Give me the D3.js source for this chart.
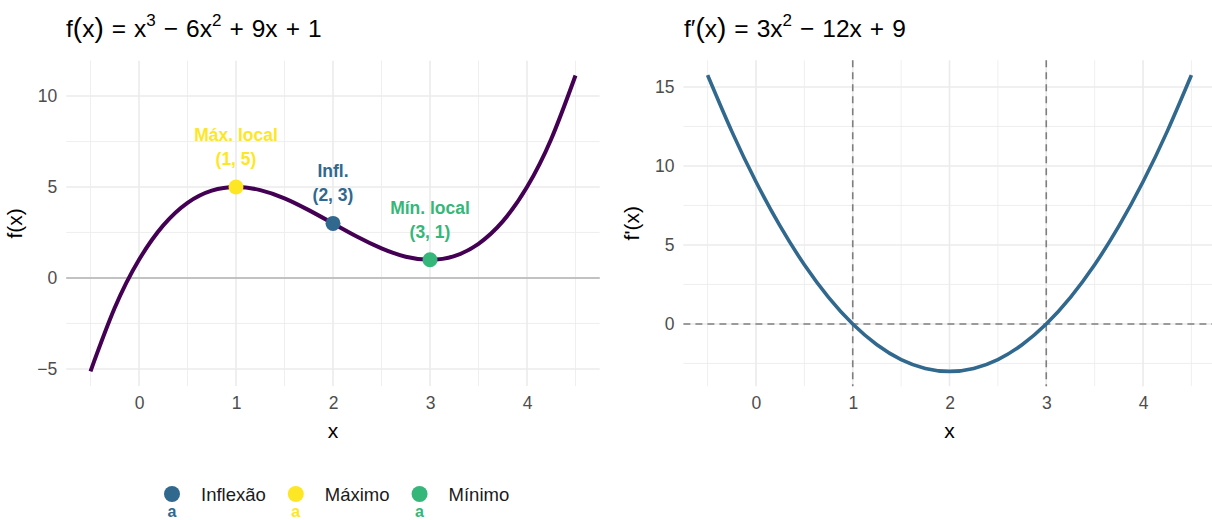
<!DOCTYPE html>
<html>
<head>
<meta charset="utf-8">
<script src="https://cdn.jsdelivr.net/npm/d3@7"></script>
<style>
  html, body { margin: 0; padding: 0; background: #ffffff; }
  svg { display: block; font-family: "Liberation Sans", Arial, Helvetica, sans-serif; }
</style>
</head>
<body>
<svg id="chart" width="1212" height="520"></svg>
<script>
// Sampled curve values
const xValues   = [-0.5, -0.25, 0, 0.25, 0.5, 0.75, 1, 1.25, 1.5, 1.75, 2, 2.25, 2.5, 2.75, 3, 3.25, 3.5, 3.75, 4, 4.25, 4.5];
const fValues   = [-5.13, -1.64, 1, 2.89, 4.13, 4.8, 5, 4.83, 4.38, 3.73, 3, 2.27, 1.63, 1.17, 1, 1.2, 1.88, 3.11, 5, 7.64, 11.13];
const dfValues  = [15.75, 12.19, 9, 6.19, 3.75, 1.69, 0, -1.31, -2.25, -2.81, -3, -2.81, -2.25, -1.31, 0, 1.69, 3.75, 6.19, 9, 12.19, 15.75];

// Critical points
const pointTypes  = ["Máximo", "Inflexão", "Mínimo"];
const pointLabels = ["Máx. local", "Infl.", "Mín. local"];
const pointX      = [1, 2, 3];
const pointY      = [5, 3, 1];

// Legend order and colours
const legendTypes  = ["Inflexão", "Máximo", "Mínimo"];
const typeColors   = { "Inflexão": "#31688E", "Máximo": "#FDE725", "Mínimo": "#35B779" };

// Axis ticks
const xTicks      = [0, 1, 2, 3, 4];
const xMinorTicks = [-0.5, 0.5, 1.5, 2.5, 3.5, 4.5];
const fTicks      = [-5, 0, 5, 10];
const fMinorTicks = [-2.5, 2.5, 7.5];
const dfTicks     = [0, 5, 10, 15];
const dfMinorTicks= [-2.5, 2.5, 7.5, 12.5];
const derivRoots  = [1, 3];

const svg = d3.select("#chart");
const GRID = "#ebebeb";
const TICK_COLOR = "#4d4d4d";
const TICK_SIZE = 17.5;

function expand(ext) {
  const pad = (ext[1] - ext[0]) * 0.05;
  return [ext[0] - pad, ext[1] + pad];
}

function panel(opts) {
  const g = svg.append("g");
  const x = d3.scaleLinear().domain(expand(d3.extent(xValues))).range([opts.left, opts.right]);
  const y = d3.scaleLinear().domain(expand(d3.extent(opts.values))).range([opts.bottom, opts.top]);

  // minor grid
  g.selectAll(".vminor").data(xMinorTicks).join("line")
    .attr("x1", d => x(d)).attr("x2", d => x(d))
    .attr("y1", opts.top).attr("y2", opts.bottom)
    .attr("stroke", GRID).attr("stroke-width", 0.8);
  g.selectAll(".hminor").data(opts.minor).join("line")
    .attr("y1", d => y(d)).attr("y2", d => y(d))
    .attr("x1", opts.left).attr("x2", opts.right)
    .attr("stroke", GRID).attr("stroke-width", 0.8);
  // major grid
  g.selectAll(".vmajor").data(xTicks).join("line")
    .attr("x1", d => x(d)).attr("x2", d => x(d))
    .attr("y1", opts.top).attr("y2", opts.bottom)
    .attr("stroke", GRID).attr("stroke-width", 1.6);
  g.selectAll(".hmajor").data(opts.ticks).join("line")
    .attr("y1", d => y(d)).attr("y2", d => y(d))
    .attr("x1", opts.left).attr("x2", opts.right)
    .attr("stroke", GRID).attr("stroke-width", 1.6);

  // axes (labels only, no lines)
  const xAxis = d3.axisBottom(x).tickValues(xTicks).tickSize(0).tickPadding(0).tickFormat(d3.format("d"));
  const xa = g.append("g").attr("transform", `translate(0,${opts.bottom + 10})`).call(xAxis);
  xa.select(".domain").remove();
  xa.selectAll("text").attr("fill", TICK_COLOR).attr("font-size", TICK_SIZE).attr("dy", "0.71em")
    .attr("font-family", "Liberation Sans, Arial, sans-serif");

  const yAxis = d3.axisLeft(y).tickValues(opts.ticks).tickSize(0).tickPadding(0)
    .tickFormat(d => d < 0 ? "\u2212" + Math.abs(d) : String(d));
  const ya = g.append("g").attr("transform", `translate(${opts.left - 9},0)`).call(yAxis);
  ya.select(".domain").remove();
  ya.selectAll("text").attr("fill", TICK_COLOR).attr("font-size", TICK_SIZE)
    .attr("font-family", "Liberation Sans, Arial, sans-serif");

  // axis titles
  g.append("text").attr("x", (x(xTicks[0]) + x(xTicks[4])) / 2).attr("y", opts.bottom + 52)
    .attr("text-anchor", "middle").attr("font-size", 21).attr("fill", "#000").text("x");
  g.append("text")
    .attr("transform", `translate(${opts.left - 44},${(opts.top + opts.bottom) / 2}) rotate(-90)`)
    .attr("text-anchor", "middle").attr("font-size", 21).attr("fill", "#000").text(opts.ylab);

  return { g, x, y };
}

// Formula title: pieces laid out left to right; operators get extra space on both sides
function mathTitle(xPos, parts) {
  const t = svg.append("text").attr("x", xPos).attr("y", 37).attr("font-size", 24.5).attr("fill", "#000");
  let raised = false;
  parts.forEach(p => {
    const s = t.append("tspan").text(p.t);
    let dy = 0;
    if (p.sup && !raised) { dy = -11; raised = true; }
    else if (!p.sup && raised) { dy = 11; raised = false; }
    if (dy) s.attr("dy", dy);
    if (p.sup) s.attr("font-size", 17);
    if (p.paren) s.attr("font-size", 28);
    if (p.op) s.attr("dx", 8);
    if (p.after) s.attr("dx", 8);
  });
}

// ---------- Left: f(x) ----------
const L = panel({ left: 66.25, right: 599.75, top: 60.7, bottom: 386.1,
  values: fValues, ticks: fTicks, minor: fMinorTicks, ylab: "f(x)" });

L.g.append("line")
  .attr("x1", 66.25).attr("x2", 599.75).attr("y1", L.y(0)).attr("y2", L.y(0))
  .attr("stroke", "#b3b3b3").attr("stroke-width", 1.6);

const fLine = d3.line().x((d, i) => L.x(xValues[i])).y(d => L.y(d)).curve(d3.curveNatural);
L.g.append("path").datum(fValues).attr("d", fLine)
  .attr("fill", "none").attr("stroke", "#440154").attr("stroke-width", 4).attr("stroke-linecap", "butt");

const pts = pointTypes.map((t, i) => ({ type: t, label: pointLabels[i], x: pointX[i], y: pointY[i] }));
L.g.selectAll(".pt").data(pts).join("circle")
  .attr("cx", d => L.x(d.x)).attr("cy", d => L.y(d.y)).attr("r", 7.5)
  .attr("fill", d => typeColors[d.type]);

const lab = L.g.selectAll(".lab").data(pts).join("text")
  .attr("text-anchor", "middle").attr("font-weight", "bold").attr("font-size", 17.5)
  .attr("fill", d => typeColors[d.type]);
lab.append("tspan").attr("x", d => L.x(d.x)).attr("y", d => L.y(d.y) - 46).text(d => d.label);
lab.append("tspan").attr("x", d => L.x(d.x)).attr("y", d => L.y(d.y) - 22).text(d => `(${d.x}, ${d.y})`);

mathTitle(66, [
  { t: "f" }, { t: "(", paren: true }, { t: "x" }, { t: ")", paren: true },
  { t: "=", op: true }, { t: "x", after: true }, { t: "3", sup: true },
  { t: "\u2212", op: true }, { t: "6x", after: true }, { t: "2", sup: true },
  { t: "+", op: true }, { t: "9x", after: true },
  { t: "+", op: true }, { t: "1", after: true }
]);

// ---------- Right: f'(x) ----------
const R = panel({ left: 683.4, right: 1215.6, top: 60.3, bottom: 386.2,
  values: dfValues, ticks: dfTicks, minor: dfMinorTicks, ylab: "f'(x)" });

R.g.append("line")
  .attr("x1", 683.4).attr("x2", 1215.6).attr("y1", R.y(0)).attr("y2", R.y(0))
  .attr("stroke", "#7f7f7f").attr("stroke-width", 1.6).attr("stroke-dasharray", "7,5");
R.g.selectAll(".root").data(derivRoots).join("line")
  .attr("x1", d => R.x(d)).attr("x2", d => R.x(d)).attr("y1", 60.3).attr("y2", 386.2)
  .attr("stroke", "#7f7f7f").attr("stroke-width", 1.6).attr("stroke-dasharray", "7,5");

const dLine = d3.line().x((d, i) => R.x(xValues[i])).y(d => R.y(d)).curve(d3.curveNatural);
R.g.append("path").datum(dfValues).attr("d", dLine)
  .attr("fill", "none").attr("stroke", "#31688E").attr("stroke-width", 3.6);

mathTitle(684, [
  { t: "f\u2032" }, { t: "(", paren: true }, { t: "x" }, { t: ")", paren: true },
  { t: "=", op: true }, { t: "3x", after: true }, { t: "2", sup: true },
  { t: "\u2212", op: true }, { t: "12x", after: true },
  { t: "+", op: true }, { t: "9", after: true }
]);

// ---------- Legend ----------
const leg = svg.append("g");
let lx = 172;
legendTypes.forEach(t => {
  leg.append("circle").attr("cx", lx).attr("cy", 494).attr("r", 8).attr("fill", typeColors[t]);
  leg.append("text").attr("x", lx).attr("y", 517).attr("text-anchor", "middle")
    .attr("font-weight", "bold").attr("font-size", 16).attr("fill", typeColors[t]).text("a");
  const tx = leg.append("text").attr("x", lx + 29).attr("y", 500.5).attr("font-size", 18.5)
    .attr("fill", "#1a1a1a").text(t);
  lx += 29 + tx.node().getComputedTextLength() + 30;
});
</script>
</body>
</html>
